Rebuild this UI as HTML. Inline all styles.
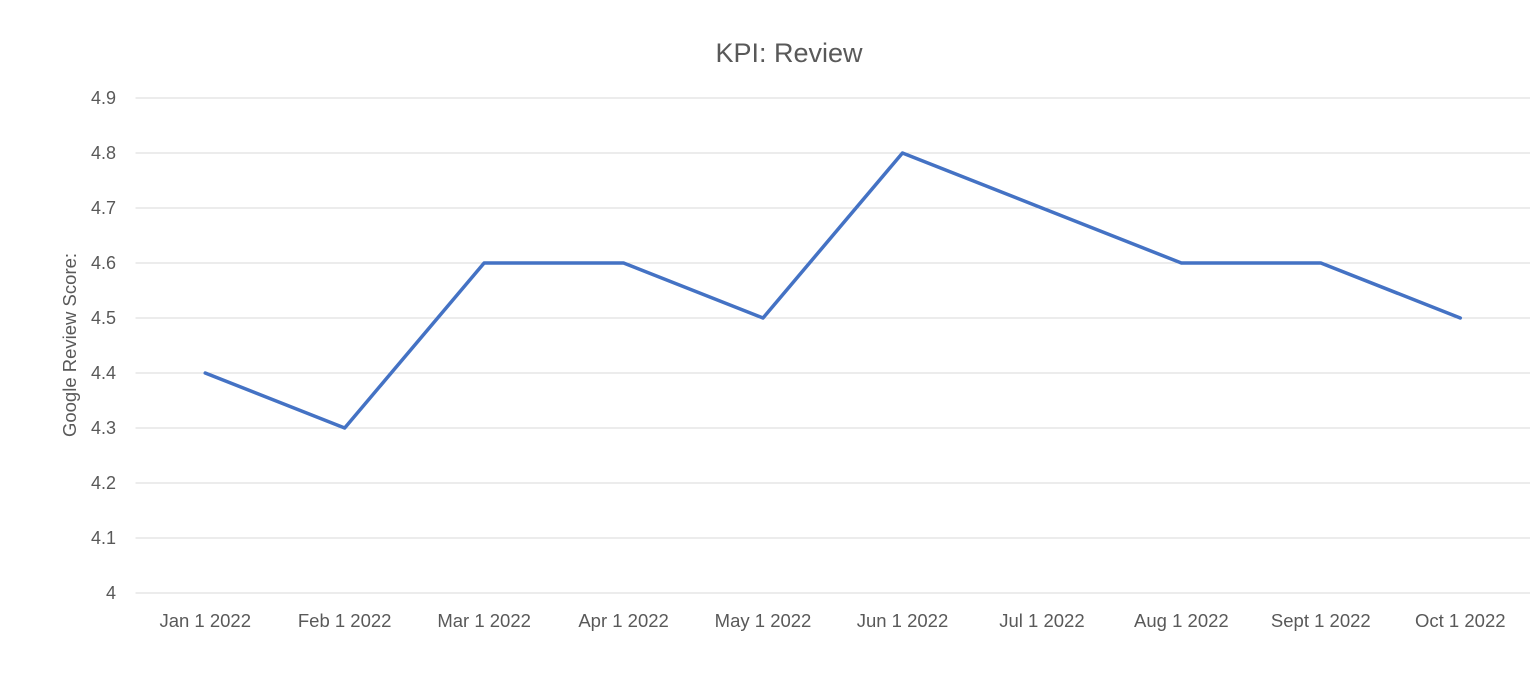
<!DOCTYPE html>
<html><head><meta charset="utf-8">
<style>
html,body{margin:0;padding:0;background:#fff;}
svg{display:block;font-family:"Liberation Sans",Arial,sans-serif;}
</style></head>
<body>
<svg id="chart" width="1530" height="690" viewBox="0 0 1530 690">
<rect width="1530" height="690" fill="#fff"/>
<text x="789" y="62" text-anchor="middle" font-size="27" fill="#595959">KPI: Review</text>
<text transform="translate(76,345) rotate(-90)" text-anchor="middle" font-size="18.5" fill="#595959">Google Review Score:</text>
<g id="grid"></g><g id="yticks"></g><g id="xticks"></g><g id="series"></g>
</svg>
<script>
const categories=["Jan 1 2022","Feb 1 2022","Mar 1 2022","Apr 1 2022","May 1 2022","Jun 1 2022","Jul 1 2022","Aug 1 2022","Sept 1 2022","Oct 1 2022"];
const scores=[4.4,4.3,4.6,4.6,4.5,4.8,4.7,4.6,4.6,4.5];
const yTickLabels=["4","4.1","4.2","4.3","4.4","4.5","4.6","4.7","4.8","4.9"];
const NS="http://www.w3.org/2000/svg";
const left=135.5,right=1530,yMin=4,yMax=4.9,yBottom=593,yTop=98;
const bw=(right-left)/categories.length;
function xPos(i){return left+bw*(i+0.5);}
function yPos(v){return yBottom-(v-yMin)/(yMax-yMin)*(yBottom-yTop);}
function mk(t,a){const e=document.createElementNS(NS,t);for(const k in a)e.setAttribute(k,a[k]);return e;}
const grid=document.getElementById('grid'),yt=document.getElementById('yticks'),xt=document.getElementById('xticks'),ser=document.getElementById('series');
yTickLabels.forEach(l=>{
  const v=parseFloat(l),y=yPos(v);
  const g=mk('line',{x1:left,x2:right,y1:y,y2:y,stroke:'#d9d9d9','stroke-width':1});
  
  
  grid.appendChild(g);
  const t=mk('text',{x:116,y:y+6,'text-anchor':'end','font-size':18,fill:'#595959'});
  
  
  t.textContent=l;yt.appendChild(t);
});
categories.forEach((c,i)=>{
  const t=mk('text',{x:xPos(i),y:627,'text-anchor':'middle','font-size':18.5,fill:'#595959'});
  
  
  t.textContent=c;xt.appendChild(t);
});
const pts=scores.map((v,i)=>xPos(i)+','+yPos(v)).join(' ');
const pl=mk('polyline',{points:pts,fill:'none',stroke:'#4472C4','stroke-width':3.5,'stroke-linejoin':'round','stroke-linecap':'round'});


ser.appendChild(pl);
</script>
</body></html>
